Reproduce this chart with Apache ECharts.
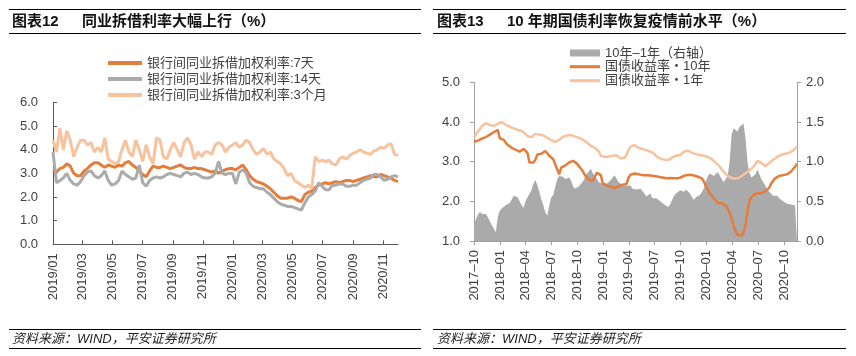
<!DOCTYPE html>
<html><head><meta charset="utf-8">
<script src="https://cdn.jsdelivr.net/npm/echarts@6/dist/echarts.min.js"></script>
<style>html,body{margin:0;padding:0;background:#fff}#c{width:856px;height:356px}</style>
</head><body><div id="c"></div>
<script>
// ---------- Left chart: interbank weighted rates (weekly samples from 2019-01-01) ----------
const leftStart = '2019-01-01', leftEnd = '2020-12-01', leftStepDays = 7;
const leftNames = ['银行间同业拆借加权利率:7天', '银行间同业拆借加权利率:14天', '银行间同业拆借加权利率:3个月'];
const rate7D = [
  3.15, 3.05, 3.2, 3.25, 3.4, 3.3, 3.0, 2.9, 2.9, 3.1,
  3.2, 3.35, 3.45, 3.45, 3.35, 3.25, 3.35, 3.3, 3.25, 3.35,
  3.3, 3.45, 3.5, 3.35, 3.25, 3.1, 2.95, 2.85, 3.1, 3.3,
  3.25, 3.25, 3.3, 3.25, 3.2, 3.25, 3.3, 3.35, 3.25, 3.2,
  3.2, 3.25, 3.2, 3.2, 3.15, 3.1, 3.05, 3.1, 3.0, 3.1,
  3.15, 3.2, 3.2, 3.15, 3.25, 3.35, 3.15, 2.9, 2.75, 2.65,
  2.6, 2.55, 2.45, 2.35, 2.2, 2.05, 1.95, 1.95, 1.95, 2.0,
  1.95, 1.85, 1.8, 2.1, 2.2, 2.25, 2.4, 2.5, 2.55, 2.6,
  2.55, 2.6, 2.65, 2.6, 2.65, 2.7, 2.7, 2.65, 2.7, 2.75,
  2.8, 2.85, 2.9, 2.85, 2.85, 2.95, 2.9, 2.85, 2.8, 2.7,
  2.65
];
const rate14D = [
  3.9, 2.6, 2.7, 2.8, 3.0, 2.7, 2.55, 2.5, 2.65, 2.9,
  3.05, 3.1, 2.9, 2.8, 2.9, 3.1, 2.7, 2.5, 2.55, 2.7,
  3.1, 2.95, 2.85, 2.75, 2.8, 3.35, 2.6, 2.45, 2.7, 2.8,
  2.85, 2.8, 2.85, 2.95, 3.0, 2.95, 2.9, 2.85, 3.0, 3.05,
  2.95, 3.0, 2.95, 2.85, 2.8, 2.8, 2.85, 3.0, 3.5, 3.0,
  2.95, 3.0, 3.0, 2.55, 3.05, 3.15, 3.0, 2.6, 2.45, 2.4,
  2.35, 2.35, 2.2, 2.1, 1.95, 1.8, 1.7, 1.65, 1.6, 1.6,
  1.55, 1.5, 1.45, 1.75, 2.0, 2.1, 2.25, 2.6, 2.45, 2.3,
  2.3, 2.5, 2.5, 2.55, 2.55, 2.45, 2.45, 2.5, 2.5, 2.6,
  2.7, 2.75, 2.8, 2.95, 2.95, 2.85, 2.7, 2.75, 2.85, 2.9,
  2.85
];
const rate3M = [
  4.4, 3.9, 4.9, 4.0, 4.8, 4.4, 3.7, 4.1, 4.4, 4.4,
  4.2, 4.3, 3.9, 4.1, 3.9, 4.5, 3.6, 3.5, 3.4, 3.5,
  4.0, 4.4, 3.9, 3.7, 4.4, 4.0, 3.5, 4.2, 3.7, 3.4,
  4.5, 4.4, 3.7, 3.6, 4.0, 4.3, 4.0, 3.7, 4.3, 4.5,
  4.2, 3.6, 3.9, 3.7, 3.9, 3.9, 3.8, 4.2, 4.3, 4.2,
  3.9, 4.1, 4.2, 4.3, 4.1, 4.2, 4.4, 4.3, 4.0, 3.8,
  3.9, 4.05, 3.8, 3.9, 3.6, 3.5, 3.4, 3.2, 2.9, 3.0,
  2.7, 2.6, 2.5, 2.4, 2.5, 2.35, 3.7, 3.5, 3.55, 3.5,
  3.55, 3.4, 3.35, 3.6, 3.7, 3.6, 3.75, 3.85, 3.9, 4.0,
  3.9, 3.85, 3.8, 3.95, 4.0, 4.1, 4.05, 4.2, 4.25, 3.8,
  3.75
];

// ---------- Right chart: government bond yields (weekly samples from 2017-10-01) ----------
const rightStart = '2017-10-01', rightEnd = '2020-11-15', rightStepDays = 7;
const rightNames = ['10年–1年（右轴）', '国债收益率・10年', '国债收益率・1年'];
const spread10y1y = [
  0.20, 0.28, 0.33, 0.37, 0.34, 0.33, 0.34, 0.30, 0.28, 0.20,
  0.16, 0.11, 0.30, 0.38, 0.41, 0.43, 0.45, 0.47, 0.48, 0.52,
  0.57, 0.58, 0.55, 0.50, 0.45, 0.42, 0.50, 0.55, 0.56, 0.64,
  0.72, 0.77, 0.70, 0.62, 0.52, 0.45, 0.36, 0.32, 0.45, 0.55,
  0.58, 0.68, 0.78, 0.82, 0.80, 0.81, 0.78, 0.77, 0.80, 0.76,
  0.69, 0.66, 0.66, 0.69, 0.72, 0.75, 0.77, 0.85, 0.88, 0.91,
  0.85, 0.86, 0.78, 0.74, 0.73, 0.72, 0.73, 0.72, 0.74, 0.77,
  0.80, 0.83, 0.78, 0.74, 0.72, 0.70, 0.69, 0.70, 0.71, 0.70,
  0.66, 0.65, 0.65, 0.64, 0.66, 0.63, 0.60, 0.56, 0.58, 0.60,
  0.54, 0.52, 0.54, 0.52, 0.50, 0.48, 0.46, 0.45, 0.43, 0.46,
  0.52, 0.57, 0.60, 0.62, 0.64, 0.63, 0.62, 0.65, 0.64, 0.60,
  0.55, 0.52, 0.55, 0.56, 0.58, 0.60, 0.66, 0.75, 0.82, 0.85,
  0.86, 0.82, 0.80, 0.87, 0.85, 0.78, 0.74, 0.75, 0.82, 1.00,
  1.34, 1.42, 1.40, 1.38, 1.44, 1.46, 1.48, 1.30, 1.00, 0.86,
  0.80, 0.78, 0.84, 0.90, 0.84, 0.78, 0.76, 0.70, 0.66, 0.62,
  0.60, 0.57, 0.58, 0.57, 0.54, 0.52, 0.50, 0.49, 0.47, 0.47,
  0.46, 0.44, 0.45, 0.44
];
const yield10Y = [
  3.50, 3.50, 3.53, 3.55, 3.58, 3.60, 3.62, 3.65, 3.68, 3.71,
  3.74, 3.78, 3.80, 3.59, 3.57, 3.55, 3.48, 3.42, 3.38, 3.35,
  3.33, 3.30, 3.26, 3.25, 3.28, 3.32, 3.30, 3.22, 2.98, 2.96,
  2.98, 3.05, 3.18, 3.18, 3.20, 3.24, 3.27, 3.28, 3.15, 3.10,
  3.06, 3.04, 2.80, 2.68, 2.85, 2.87, 2.90, 2.92, 2.98, 3.03,
  3.02, 2.98, 2.95, 2.88, 2.82, 2.75, 2.66, 2.62, 2.54, 2.52,
  2.52, 2.55, 2.72, 2.73, 2.66, 2.45, 2.41, 2.40, 2.38, 2.37,
  2.35, 2.33, 2.34, 2.38, 2.41, 2.42, 2.43, 2.44, 2.60, 2.67,
  2.69, 2.70, 2.70, 2.68, 2.67, 2.66, 2.66, 2.66, 2.65, 2.65,
  2.64, 2.64, 2.63, 2.62, 2.62, 2.60, 2.59, 2.58, 2.58, 2.59,
  2.58, 2.58, 2.57, 2.58, 2.58, 2.62, 2.66, 2.66, 2.66, 2.67,
  2.66, 2.65, 2.63, 2.62, 2.62, 2.58, 2.50, 2.38, 2.30, 2.20,
  2.14, 2.08, 2.02, 1.96, 1.95, 1.95, 1.93, 1.90, 1.82, 1.72,
  1.55, 1.40, 1.25, 1.15, 1.11, 1.14, 1.22, 1.40, 1.75, 2.00,
  2.10, 2.16, 2.19, 2.20, 2.20, 2.21, 2.22, 2.25, 2.28, 2.34,
  2.45, 2.52, 2.58, 2.62, 2.64, 2.66, 2.66, 2.66, 2.68, 2.71,
  2.75, 2.80, 2.87, 2.95
];
const yield1Y = [
  3.60, 3.68, 3.76, 3.82, 3.90, 3.95, 3.97, 3.94, 3.92, 3.90,
  3.90, 3.93, 3.95, 3.98, 4.00, 3.96, 3.93, 3.90, 3.88, 3.86,
  3.84, 3.82, 3.80, 3.80, 3.78, 3.74, 3.70, 3.64, 3.60, 3.62,
  3.65, 3.70, 3.70, 3.68, 3.68, 3.66, 3.64, 3.60, 3.56, 3.54,
  3.52, 3.50, 3.50, 3.55, 3.60, 3.63, 3.64, 3.66, 3.67, 3.67,
  3.65, 3.63, 3.62, 3.60, 3.57, 3.55, 3.52, 3.48, 3.44, 3.40,
  3.38, 3.35, 3.32, 3.25, 3.15, 3.13, 3.12, 3.12, 3.13, 3.14,
  3.15, 3.17, 3.16, 3.12, 3.08, 3.07, 3.10, 3.17, 3.30, 3.38,
  3.42, 3.42, 3.38, 3.35, 3.33, 3.32, 3.30, 3.29, 3.27, 3.25,
  3.22, 3.20, 3.14, 3.10, 3.08, 3.06, 3.05, 3.04, 3.04, 3.07,
  3.10, 3.13, 3.15, 3.16, 3.17, 3.21, 3.25, 3.29, 3.28, 3.25,
  3.22, 3.20, 3.19, 3.18, 3.17, 3.16, 3.15, 3.14, 3.12, 3.09,
  3.06, 3.02, 2.97, 2.93, 2.88, 2.80, 2.75, 2.69, 2.65, 2.61,
  2.58, 2.57, 2.57, 2.58, 2.60, 2.63, 2.68, 2.71, 2.75, 2.78,
  2.82, 2.87, 2.93, 3.02, 3.05, 2.97, 2.92, 2.88, 2.90, 2.97,
  3.02, 3.05, 3.08, 3.12, 3.15, 3.17, 3.18, 3.20, 3.21, 3.22,
  3.24, 3.28, 3.33, 3.38
];

// ---------- helpers ----------
function addDays(s, n) {
  const d = new Date(s + 'T00:00:00Z');
  d.setUTCDate(d.getUTCDate() + n);
  return d.toISOString().slice(0, 10);
}
function dayRange(a, b) {
  const out = []; let d = a;
  while (d <= b) { out.push(d); d = addDays(d, 1); }
  return out;
}
const toPairs = (start, step, vals) => vals.map((v, i) => [addDays(start, i * step), v]);

const leftDays = dayRange(leftStart, leftEnd);
const rightDays = dayRange(rightStart, rightEnd);
const leftTickShow = (i, v) => v.slice(8) === '01' && (parseInt(v.slice(5, 7), 10) % 2 === 1);
const rightTickShow = (i, v) => v.slice(8) === '01' && ['01', '04', '07', '10'].includes(v.slice(5, 7));

const FONT = '"Liberation Sans","Noto Sans CJK SC",sans-serif';
const TXT = '#404040';
const DARK = '#E47D3C', LIGHT = '#F6C39E', GRAY = '#ABABAB';

const chart = echarts.init(document.getElementById('c'), null, { renderer: 'canvas' });
chart.setOption({
  animation: false,
  backgroundColor: '#fff',
  textStyle: { fontFamily: FONT },
  grid: [
    { left: 53, top: 102.3, width: 345, height: 142 },
    { left: 474, top: 82.3, width: 323, height: 158.7 }
  ],
  legend: [
    { left: 108, top: 56, orient: 'vertical', padding: 0, itemGap: 2, itemWidth: 34, itemHeight: 4,
      icon: 'rect', data: leftNames,
      textStyle: { fontSize: 13, color: TXT, fontFamily: FONT, lineHeight: 14 } },
    { left: 570, top: 46, orient: 'vertical', padding: 0, itemGap: 0, itemWidth: 30, itemHeight: 7,
      icon: 'rect', data: [rightNames[0]],
      textStyle: { fontSize: 13, color: TXT, fontFamily: FONT, lineHeight: 14 } },
    { left: 570, top: 59.7, orient: 'vertical', padding: 0, itemGap: 0, itemWidth: 30, itemHeight: 3,
      icon: 'rect', data: [rightNames[1], rightNames[2]],
      textStyle: { fontSize: 13, color: TXT, fontFamily: FONT, lineHeight: 14 } }
  ],
  xAxis: [
    { type: 'category', gridIndex: 0, data: leftDays, boundaryGap: false,
      axisLine: { lineStyle: { color: '#595959', width: 1 } },
      axisTick: { inside: true, length: 4, interval: leftTickShow, lineStyle: { color: '#595959' } },
      axisLabel: { interval: leftTickShow, rotate: 90, margin: 9, fontSize: 13, color: TXT, fontFamily: FONT,
        formatter: v => v.slice(0, 4) + '/' + v.slice(5, 7) },
      splitLine: { show: false } },
    { type: 'category', gridIndex: 1, data: rightDays, boundaryGap: false,
      axisLine: { lineStyle: { color: '#A0A0A0', width: 1 } },
      axisTick: { inside: false, length: 4, interval: rightTickShow, lineStyle: { color: '#A0A0A0' } },
      axisLabel: { interval: rightTickShow, rotate: 90, margin: 9, fontSize: 13, color: TXT, fontFamily: FONT,
        formatter: v => v.slice(0, 4) + '–' + v.slice(5, 7) },
      splitLine: { show: false } }
  ],
  yAxis: [
    { type: 'value', gridIndex: 0, min: 0, max: 6, interval: 1,
      axisLine: { show: true, lineStyle: { color: '#595959' } },
      axisTick: { show: true, inside: true, length: 4, lineStyle: { color: '#595959' } },
      axisLabel: { margin: 15, fontSize: 13, color: TXT, fontFamily: FONT, formatter: v => v.toFixed(1) },
      splitLine: { show: false } },
    { type: 'value', gridIndex: 1, position: 'left', min: 1, max: 5, interval: 1,
      axisLine: { show: true, lineStyle: { color: '#A0A0A0' } },
      axisTick: { show: true, inside: false, length: 4, lineStyle: { color: '#A0A0A0' } },
      axisLabel: { margin: 14, fontSize: 13, color: TXT, fontFamily: FONT, formatter: v => v.toFixed(1) },
      splitLine: { show: false } },
    { type: 'value', gridIndex: 1, position: 'right', min: 0, max: 2, interval: 0.5,
      axisLine: { show: true, lineStyle: { color: '#A0A0A0' } },
      axisTick: { show: true, inside: false, length: 4, lineStyle: { color: '#A0A0A0' } },
      axisLabel: { margin: 9, fontSize: 13, color: TXT, fontFamily: FONT, formatter: v => v.toFixed(1) },
      splitLine: { show: false } }
  ],
  series: [
    { name: leftNames[0], type: 'line', xAxisIndex: 0, yAxisIndex: 0, symbol: 'none',
      data: toPairs(leftStart, leftStepDays, rate7D),
      itemStyle: { color: DARK }, lineStyle: { color: DARK, width: 3 } },
    { name: leftNames[1], type: 'line', xAxisIndex: 0, yAxisIndex: 0, symbol: 'none',
      data: toPairs(leftStart, leftStepDays, rate14D),
      itemStyle: { color: GRAY }, lineStyle: { color: GRAY, width: 3 } },
    { name: leftNames[2], type: 'line', xAxisIndex: 0, yAxisIndex: 0, symbol: 'none',
      data: toPairs(leftStart, leftStepDays, rate3M),
      itemStyle: { color: LIGHT }, lineStyle: { color: LIGHT, width: 3 } },
    { name: rightNames[0], type: 'line', xAxisIndex: 1, yAxisIndex: 2, symbol: 'none',
      data: toPairs(rightStart, rightStepDays, spread10y1y),
      itemStyle: { color: '#AAAAAA' }, lineStyle: { width: 0, color: '#AAAAAA' },
      areaStyle: { color: '#AAAAAA', opacity: 1 } },
    { name: rightNames[1], type: 'line', xAxisIndex: 1, yAxisIndex: 1, symbol: 'none',
      data: toPairs(rightStart, rightStepDays, yield10Y),
      itemStyle: { color: DARK }, lineStyle: { color: DARK, width: 2.5 } },
    { name: rightNames[2], type: 'line', xAxisIndex: 1, yAxisIndex: 1, symbol: 'none',
      data: toPairs(rightStart, rightStepDays, yield1Y),
      itemStyle: { color: LIGHT }, lineStyle: { color: LIGHT, width: 2.5 } }
  ],
  graphic: [
    { type: 'line', shape: { x1: 9, y1: 9.5, x2: 421, y2: 9.5 }, style: { stroke: '#000', lineWidth: 1 } },
    { type: 'line', shape: { x1: 9, y1: 33.5, x2: 421, y2: 33.5 }, style: { stroke: '#000', lineWidth: 1 } },
    { type: 'line', shape: { x1: 433, y1: 9.5, x2: 846, y2: 9.5 }, style: { stroke: '#000', lineWidth: 1 } },
    { type: 'line', shape: { x1: 433, y1: 33.5, x2: 846, y2: 33.5 }, style: { stroke: '#000', lineWidth: 1 } },
    { type: 'text', x: 12, y: 21.5, style: { text: '图表12', font: 'bold 15px ' + FONT, fill: '#111', verticalAlign: 'middle' } },
    { type: 'text', x: 82, y: 21.5, style: { text: '同业拆借利率大幅上行（%）', font: 'bold 15px ' + FONT, fill: '#111', verticalAlign: 'middle' } },
    { type: 'text', x: 437, y: 21.5, style: { text: '图表13', font: 'bold 15px ' + FONT, fill: '#111', verticalAlign: 'middle' } },
    { type: 'text', x: 507, y: 21.5, style: { text: '10 年期国债利率恢复疫情前水平（%）', font: 'bold 15px ' + FONT, fill: '#111', verticalAlign: 'middle' } },
    { type: 'line', shape: { x1: 9, y1: 329.5, x2: 421, y2: 329.5 }, style: { stroke: '#000', lineWidth: 1 } },
    { type: 'line', shape: { x1: 9, y1: 348.5, x2: 421, y2: 348.5 }, style: { stroke: '#000', lineWidth: 1 } },
    { type: 'line', shape: { x1: 433, y1: 329.5, x2: 846, y2: 329.5 }, style: { stroke: '#000', lineWidth: 1 } },
    { type: 'line', shape: { x1: 433, y1: 348.5, x2: 846, y2: 348.5 }, style: { stroke: '#000', lineWidth: 1 } },
    { type: 'text', x: 12, y: 339, style: { text: '资料来源：WIND，平安证券研究所', font: 'italic 13px ' + FONT, fill: '#222', verticalAlign: 'middle' } },
    { type: 'text', x: 437, y: 339, style: { text: '资料来源：WIND，平安证券研究所', font: 'italic 13px ' + FONT, fill: '#222', verticalAlign: 'middle' } }
  ]
});
</script>
</body></html>
